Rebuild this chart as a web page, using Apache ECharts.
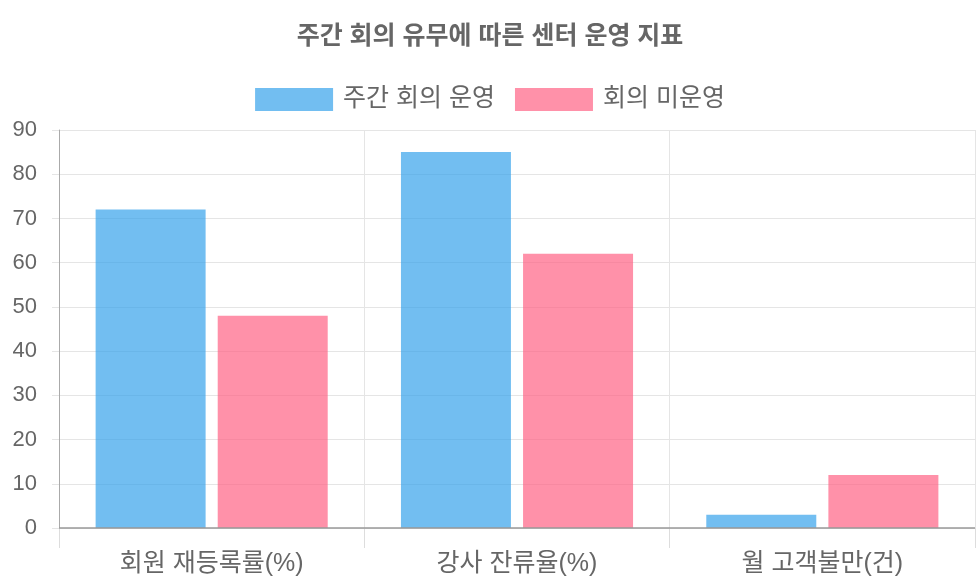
<!DOCTYPE html>
<html>
<head>
<meta charset="utf-8">
<script src="https://cdn.jsdelivr.net/npm/echarts@6/dist/echarts.min.js"></script>
<style>
  html, body { margin: 0; padding: 0; background: #fff; }
  #chart { width: 980px; height: 588px; }
</style>
</head>
<body>
<div id="chart"></div>
<script>
// 데이터
const categories = ['회원 재등록률(%)', '강사 잔류율(%)', '월 고객불만(건)'];
const weeklyMeeting = [72, 85, 3];
const noMeeting = [48, 62, 12];
const seriesNames = ['주간 회의 운영', '회의 미운영'];

const FONT = '"Liberation Sans", "Noto Sans CJK KR", sans-serif';

const chart = echarts.init(document.getElementById('chart'));
chart.setOption({
  animation: false,
  title: {
    text: '주간 회의 유무에 따른 센터 운영 지표',
    left: 'center',
    top: 20,
    textStyle: { fontFamily: FONT, fontSize: 25, fontWeight: 'bold', color: '#666' }
  },
  legend: {
    top: 82,
    left: 'center',
    itemWidth: 78,
    itemHeight: 23,
    itemGap: 20,
    icon: 'rect',
    textStyle: { fontFamily: FONT, fontSize: 25, color: '#666', padding: [0, 0, 0, 5] },
    data: seriesNames
  },
  grid: { left: 59, right: 5, top: 130, bottom: 60 },
  xAxis: {
    type: 'category',
    data: categories,
    axisLine: { show: false },
    axisTick: { show: true, length: 20, lineStyle: { color: '#ddd' } },
    splitLine: { show: true, lineStyle: { color: '#e5e5e5' } },
    axisLabel: { fontFamily: FONT, fontSize: 25, color: '#666', margin: 24 }
  },
  yAxis: {
    type: 'value',
    min: 0,
    max: 90,
    interval: 10,
    axisLine: { show: true, lineStyle: { color: '#aaa' } },
    axisTick: { show: true, length: 7, lineStyle: { color: '#e5e5e5' } },
    splitLine: { lineStyle: { color: '#e5e5e5' } },
    axisLabel: { fontFamily: FONT, fontSize: 22, color: '#666', margin: 22 }
  },
  series: [
    {
      name: seriesNames[0],
      type: 'bar',
      data: weeklyMeeting,
      barWidth: 110,
      barGap: '11%',
      itemStyle: { color: 'rgba(54,162,235,0.7)' },
      markLine: {
        silent: true,
        symbol: 'none',
        label: { show: false },
        lineStyle: { color: '#999', type: 'solid', width: 1.5 },
        data: [{ yAxis: 0 }]
      }
    },
    {
      name: seriesNames[1],
      type: 'bar',
      data: noMeeting,
      barWidth: 110,
      itemStyle: { color: 'rgba(255,99,132,0.7)' }
    }
  ]
});
</script>
</body>
</html>
